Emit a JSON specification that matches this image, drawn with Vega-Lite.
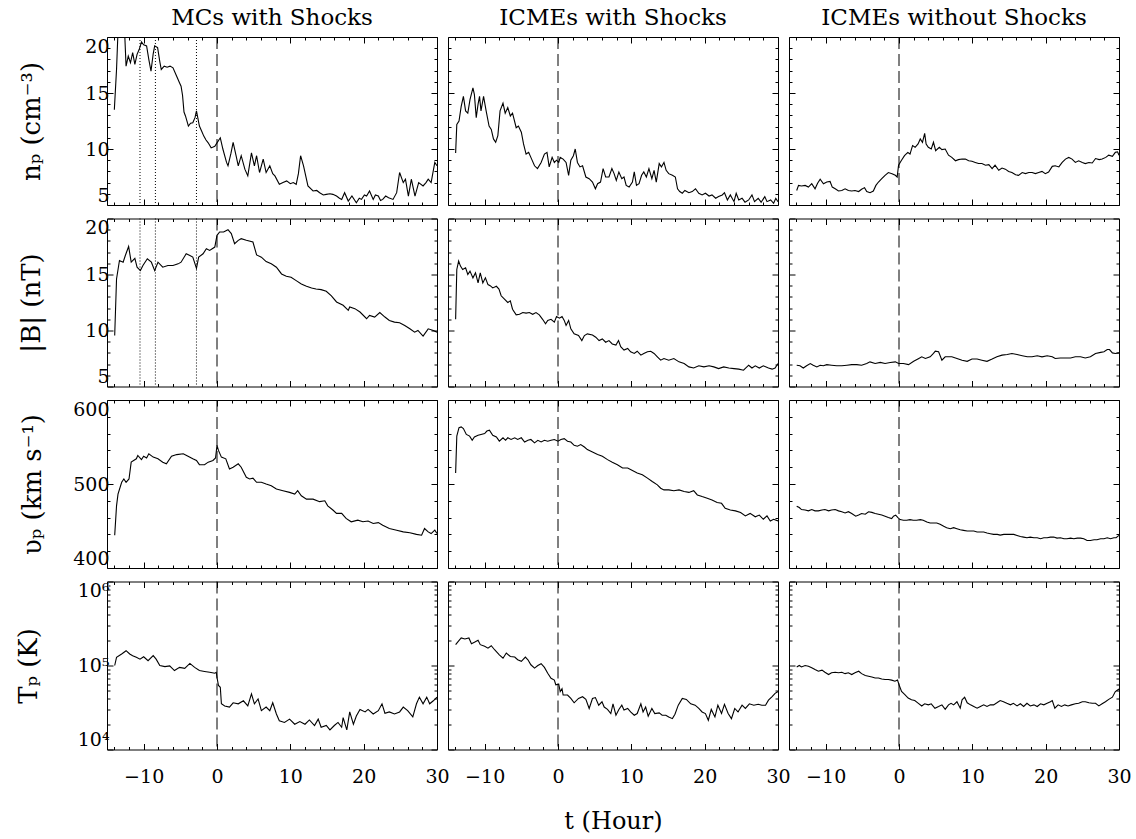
{
  "$schema": "https://vega.github.io/schema/vega-lite/v6.json",
  "background": "white",
  "padding": {"left": 14, "top": 6, "right": 5, "bottom": 5},
  "config": {
    "view": {"stroke": "black", "strokeWidth": 1},
    "axis": {"labelFont": "DejaVu Serif", "labelFontSize": 19, "labelColor": "black", "tickColor": "black", "tickWidth": 1,
      "titleFont": "DejaVu Serif", "titleFontSize": 26, "titleFontWeight": "normal", "titleColor": "black",
      "domain": false, "grid": false, "labelFlush": false, "labelOverlap": false, "labelBound": false},
    "title": {"font": "DejaVu Serif", "fontSize": 23, "fontWeight": "normal", "color": "black", "offset": 7},
    "line": {"color": "black", "strokeWidth": 1.1}
  },
  "datasets": {
    "a1": [{"t":-14.0,"v":13.5},{"t":-13.7,"v":17.1},{"t":-13.5,"v":20.5},{"t":-13.2,"v":22},{"t":-12.8,"v":21.5},{"t":-12.6,"v":20.5},{"t":-12.4,"v":17.4},{"t":-12.1,"v":18.3},{"t":-11.8,"v":17.7},{"t":-11.5,"v":18.6},{"t":-11.2,"v":17.55},{"t":-10.9,"v":18.45},{"t":-10.6,"v":18.9},{"t":-10.3,"v":19.55},{"t":-10.0,"v":19.3},{"t":-9.6,"v":19.2},{"t":-9.3,"v":18.0},{"t":-9.0,"v":16.95},{"t":-8.7,"v":18.5},{"t":-8.5,"v":19.2},{"t":-8.1,"v":19.05},{"t":-7.8,"v":17.8},{"t":-7.6,"v":17.1},{"t":-7.2,"v":17.4},{"t":-6.8,"v":17.3},{"t":-6.4,"v":17.4},{"t":-6.0,"v":17.25},{"t":-5.5,"v":16.5},{"t":-5.1,"v":15.9},{"t":-4.9,"v":15.6},{"t":-4.7,"v":14.8},{"t":-4.5,"v":13.3},{"t":-4.3,"v":12.95},{"t":-3.9,"v":12.05},{"t":-3.6,"v":12.3},{"t":-3.3,"v":12.35},{"t":-3.0,"v":12.8},{"t":-2.8,"v":13.4},{"t":-2.4,"v":12.05},{"t":-2.1,"v":11.6},{"t":-1.8,"v":11.15},{"t":-1.5,"v":10.8},{"t":-1.2,"v":10.55},{"t":-0.8,"v":10.1},{"t":-0.3,"v":10.25},{"t":0.0,"v":10.55},{"t":0.45,"v":11.0},{"t":0.8,"v":10.0},{"t":1.3,"v":8.8},{"t":1.5,"v":8.5},{"t":1.9,"v":9.6},{"t":2.2,"v":10.6},{"t":2.6,"v":9.4},{"t":2.9,"v":8.5},{"t":3.3,"v":9.4},{"t":3.8,"v":8.2},{"t":4.2,"v":7.6},{"t":4.7,"v":9.65},{"t":5.1,"v":8.5},{"t":5.4,"v":9.4},{"t":5.8,"v":7.9},{"t":6.3,"v":9.1},{"t":6.7,"v":7.9},{"t":7.2,"v":8.5},{"t":7.6,"v":7.8},{"t":7.9,"v":7.6},{"t":8.5,"v":6.85},{"t":9.0,"v":7.0},{"t":9.5,"v":7.15},{"t":10.0,"v":6.9},{"t":10.4,"v":7.0},{"t":10.8,"v":6.85},{"t":11.1,"v":7.8},{"t":11.4,"v":9.4},{"t":11.8,"v":8.5},{"t":12.4,"v":6.7},{"t":13.1,"v":6.25},{"t":13.6,"v":6.3},{"t":14.0,"v":6.1},{"t":14.5,"v":5.9},{"t":14.9,"v":5.95},{"t":15.4,"v":6.0},{"t":15.8,"v":5.95},{"t":16.3,"v":5.8},{"t":16.7,"v":5.6},{"t":17.0,"v":5.5},{"t":17.4,"v":6.1},{"t":17.9,"v":5.35},{"t":18.4,"v":5.8},{"t":19.0,"v":5.2},{"t":19.4,"v":5.6},{"t":19.7,"v":5.5},{"t":20.1,"v":5.9},{"t":20.4,"v":5.8},{"t":20.8,"v":6.25},{"t":21.3,"v":5.5},{"t":21.6,"v":5.9},{"t":22.0,"v":5.8},{"t":22.3,"v":5.4},{"t":22.6,"v":5.5},{"t":23.0,"v":5.8},{"t":23.4,"v":5.65},{"t":24.0,"v":5.5},{"t":24.5,"v":6.1},{"t":24.9,"v":7.9},{"t":25.4,"v":7.0},{"t":25.7,"v":7.3},{"t":26.1,"v":5.8},{"t":26.5,"v":7.3},{"t":27.0,"v":5.8},{"t":27.5,"v":7.0},{"t":28.1,"v":6.7},{"t":28.5,"v":7.0},{"t":28.8,"v":7.3},{"t":29.2,"v":7.0},{"t":29.7,"v":8.8},{"t":30.0,"v":8.5}],
    "a2": [{"t":-13.95,"v":9.55},{"t":-13.7,"v":14.6},{"t":-13.3,"v":16.25},{"t":-12.8,"v":16.1},{"t":-12.5,"v":16.7},{"t":-12.05,"v":17.5},{"t":-11.7,"v":16.1},{"t":-11.2,"v":16.45},{"t":-10.9,"v":15.65},{"t":-10.45,"v":15.35},{"t":-10.1,"v":15.8},{"t":-9.5,"v":16.4},{"t":-8.95,"v":16.1},{"t":-8.5,"v":15.35},{"t":-8.05,"v":16.1},{"t":-7.4,"v":15.65},{"t":-6.7,"v":15.8},{"t":-6.0,"v":15.8},{"t":-5.3,"v":15.95},{"t":-4.9,"v":16.1},{"t":-4.2,"v":16.85},{"t":-3.7,"v":16.7},{"t":-3.3,"v":16.55},{"t":-2.8,"v":15.55},{"t":-2.5,"v":16.55},{"t":-1.9,"v":16.85},{"t":-1.45,"v":17.3},{"t":-1.0,"v":17.15},{"t":-0.3,"v":17.45},{"t":0.0,"v":18.5},{"t":0.36,"v":18.8},{"t":0.9,"v":18.8},{"t":1.5,"v":19.0},{"t":1.95,"v":18.65},{"t":2.4,"v":17.75},{"t":2.9,"v":18.05},{"t":3.3,"v":18.2},{"t":4.0,"v":18.05},{"t":4.9,"v":17.9},{"t":5.4,"v":16.75},{"t":6.05,"v":16.55},{"t":6.7,"v":16.15},{"t":7.4,"v":15.95},{"t":8.1,"v":15.65},{"t":8.8,"v":15.05},{"t":9.45,"v":14.85},{"t":10.1,"v":14.75},{"t":10.8,"v":14.45},{"t":11.5,"v":14.15},{"t":12.2,"v":13.95},{"t":12.9,"v":13.8},{"t":13.5,"v":13.7},{"t":14.2,"v":13.65},{"t":14.9,"v":13.5},{"t":15.6,"v":13.1},{"t":16.3,"v":12.55},{"t":17.2,"v":12.25},{"t":17.9,"v":11.8},{"t":18.1,"v":12.1},{"t":18.8,"v":11.95},{"t":19.5,"v":11.65},{"t":20.4,"v":11.05},{"t":20.8,"v":11.35},{"t":21.5,"v":11.2},{"t":22.2,"v":11.6},{"t":22.9,"v":11.2},{"t":23.5,"v":10.9},{"t":24.2,"v":10.75},{"t":24.9,"v":10.7},{"t":25.6,"v":10.45},{"t":26.3,"v":10.15},{"t":26.95,"v":9.85},{"t":27.4,"v":10.0},{"t":28.1,"v":9.5},{"t":28.8,"v":10.15},{"t":29.5,"v":10.0},{"t":30.0,"v":9.85}],
    "a3": [{"t":-13.95,"v":439},{"t":-13.7,"v":474},{"t":-13.5,"v":488},{"t":-13.0,"v":502},{"t":-12.7,"v":506},{"t":-12.4,"v":502},{"t":-12.0,"v":506},{"t":-11.7,"v":526},{"t":-11.0,"v":530},{"t":-10.8,"v":534},{"t":-10.3,"v":529},{"t":-10.0,"v":533},{"t":-9.6,"v":531},{"t":-9.3,"v":536},{"t":-8.7,"v":532},{"t":-8.05,"v":530},{"t":-7.4,"v":526},{"t":-6.9,"v":524},{"t":-6.2,"v":533},{"t":-5.5,"v":535},{"t":-4.6,"v":536},{"t":-3.95,"v":533},{"t":-3.3,"v":530},{"t":-2.8,"v":528},{"t":-2.4,"v":523},{"t":-1.7,"v":523},{"t":-1.2,"v":526},{"t":-0.55,"v":528},{"t":-0.2,"v":531},{"t":0.0,"v":546},{"t":0.2,"v":540},{"t":0.6,"v":532},{"t":1.2,"v":530},{"t":1.7,"v":518},{"t":2.2,"v":520},{"t":2.9,"v":524},{"t":3.3,"v":520},{"t":4.0,"v":508},{"t":4.45,"v":506},{"t":4.9,"v":507},{"t":5.4,"v":502},{"t":6.05,"v":502},{"t":6.7,"v":500},{"t":7.4,"v":498},{"t":8.1,"v":494},{"t":9.0,"v":492},{"t":9.9,"v":490},{"t":10.6,"v":488},{"t":11.0,"v":492},{"t":11.5,"v":486},{"t":12.2,"v":482},{"t":13.1,"v":482},{"t":14.0,"v":479},{"t":14.7,"v":480},{"t":15.1,"v":474},{"t":15.8,"v":469},{"t":16.3,"v":465},{"t":17.0,"v":465},{"t":17.6,"v":459},{"t":18.3,"v":455},{"t":19.2,"v":457},{"t":19.9,"v":455},{"t":20.6,"v":456},{"t":21.3,"v":453},{"t":22.0,"v":454},{"t":22.6,"v":451},{"t":23.5,"v":447},{"t":24.5,"v":445},{"t":25.4,"v":443},{"t":26.3,"v":442},{"t":27.2,"v":440},{"t":27.9,"v":439},{"t":28.3,"v":447},{"t":28.8,"v":443},{"t":29.2,"v":441},{"t":29.7,"v":445},{"t":30.0,"v":441}],
    "a4": [{"t":-13.95,"v":100000},{"t":-13.7,"v":125000},{"t":-13.0,"v":137000},{"t":-12.4,"v":150000},{"t":-11.9,"v":137000},{"t":-11.5,"v":131000},{"t":-11.0,"v":125000},{"t":-10.5,"v":119000},{"t":-10.0,"v":127000},{"t":-9.4,"v":114000},{"t":-8.7,"v":131000},{"t":-8.3,"v":119000},{"t":-7.8,"v":100000},{"t":-7.1,"v":97000},{"t":-6.45,"v":99000},{"t":-5.8,"v":87000},{"t":-5.1,"v":95000},{"t":-4.4,"v":92500},{"t":-3.7,"v":106000},{"t":-3.05,"v":95000},{"t":-2.4,"v":87000},{"t":-1.7,"v":85000},{"t":-1.0,"v":83000},{"t":-0.3,"v":81000},{"t":-0.1,"v":83000},{"t":0.0,"v":72000},{"t":0.2,"v":58000},{"t":0.45,"v":55000},{"t":0.6,"v":35000},{"t":1.05,"v":33000},{"t":1.7,"v":32000},{"t":2.2,"v":36000},{"t":2.9,"v":35000},{"t":3.6,"v":38000},{"t":4.2,"v":33000},{"t":4.7,"v":46000},{"t":5.1,"v":35000},{"t":5.6,"v":40000},{"t":6.05,"v":29000},{"t":6.7,"v":32000},{"t":7.2,"v":29000},{"t":7.6,"v":36000},{"t":8.1,"v":26500},{"t":8.5,"v":22000},{"t":9.2,"v":21000},{"t":9.9,"v":23000},{"t":10.6,"v":20000},{"t":11.3,"v":21500},{"t":12.0,"v":20000},{"t":12.6,"v":22500},{"t":13.3,"v":19300},{"t":13.8,"v":23000},{"t":14.2,"v":18400},{"t":14.9,"v":19300},{"t":15.4,"v":17100},{"t":16.0,"v":19300},{"t":16.5,"v":21000},{"t":17.0,"v":18400},{"t":17.2,"v":24000},{"t":17.7,"v":17100},{"t":18.1,"v":28000},{"t":18.6,"v":20000},{"t":19.0,"v":25000},{"t":19.5,"v":30000},{"t":20.2,"v":28000},{"t":20.6,"v":30000},{"t":21.3,"v":26500},{"t":22.0,"v":29000},{"t":22.5,"v":35000},{"t":22.9,"v":27000},{"t":23.5,"v":28000},{"t":24.2,"v":26500},{"t":24.9,"v":28000},{"t":25.4,"v":32000},{"t":26.0,"v":29000},{"t":26.7,"v":24500},{"t":27.2,"v":35000},{"t":27.6,"v":42000},{"t":28.1,"v":35000},{"t":28.6,"v":42000},{"t":29.0,"v":35000},{"t":29.5,"v":38000},{"t":30.0,"v":42000}],
    "b1": [{"t":-13.96,"v":9.65},{"t":-13.8,"v":12.2},{"t":-13.5,"v":12.5},{"t":-13.2,"v":13.8},{"t":-12.9,"v":14.7},{"t":-12.6,"v":13.4},{"t":-12.3,"v":13.2},{"t":-12.0,"v":14.4},{"t":-11.6,"v":15.45},{"t":-11.4,"v":14.85},{"t":-11.15,"v":12.8},{"t":-10.9,"v":14.0},{"t":-10.7,"v":14.7},{"t":-10.5,"v":13.4},{"t":-10.15,"v":14.7},{"t":-9.8,"v":13.4},{"t":-9.4,"v":12.05},{"t":-9.1,"v":11.75},{"t":-8.8,"v":10.9},{"t":-8.5,"v":10.6},{"t":-8.2,"v":11.2},{"t":-7.9,"v":13.4},{"t":-7.5,"v":14.1},{"t":-7.2,"v":13.2},{"t":-6.85,"v":13.7},{"t":-6.5,"v":12.95},{"t":-6.2,"v":13.2},{"t":-5.7,"v":11.9},{"t":-5.4,"v":12.05},{"t":-5.0,"v":11.5},{"t":-4.7,"v":10.45},{"t":-4.35,"v":9.55},{"t":-4.0,"v":9.7},{"t":-3.7,"v":9.25},{"t":-3.2,"v":8.5},{"t":-2.8,"v":8.25},{"t":-2.3,"v":8.8},{"t":-1.85,"v":9.55},{"t":-1.5,"v":9.7},{"t":-1.2,"v":8.4},{"t":-0.8,"v":9.25},{"t":-0.5,"v":8.8},{"t":-0.2,"v":9.0},{"t":0.1,"v":8.8},{"t":0.3,"v":9.25},{"t":0.7,"v":9.1},{"t":1.1,"v":8.8},{"t":1.45,"v":7.65},{"t":1.75,"v":9.0},{"t":2.1,"v":9.4},{"t":2.35,"v":10.0},{"t":2.65,"v":8.8},{"t":3.0,"v":8.4},{"t":3.35,"v":8.5},{"t":3.8,"v":7.5},{"t":4.25,"v":7.35},{"t":4.7,"v":7.05},{"t":5.1,"v":6.45},{"t":5.4,"v":6.9},{"t":5.8,"v":7.05},{"t":6.15,"v":8.25},{"t":6.5,"v":7.5},{"t":6.95,"v":7.5},{"t":7.35,"v":8.25},{"t":7.65,"v":7.8},{"t":7.95,"v":7.2},{"t":8.3,"v":7.95},{"t":8.7,"v":7.35},{"t":9.0,"v":7.5},{"t":9.3,"v":6.75},{"t":9.7,"v":6.6},{"t":10.15,"v":7.05},{"t":10.4,"v":7.95},{"t":10.7,"v":6.75},{"t":11.05,"v":6.9},{"t":11.4,"v":7.65},{"t":11.7,"v":7.95},{"t":12.05,"v":7.5},{"t":12.4,"v":8.25},{"t":12.8,"v":7.35},{"t":13.1,"v":8.1},{"t":13.4,"v":7.05},{"t":13.8,"v":8.7},{"t":14.1,"v":8.4},{"t":14.45,"v":8.8},{"t":14.75,"v":8.1},{"t":15.1,"v":7.8},{"t":15.6,"v":7.65},{"t":16.0,"v":7.5},{"t":16.3,"v":6.45},{"t":16.6,"v":6.2},{"t":16.95,"v":6.05},{"t":17.3,"v":6.3},{"t":17.85,"v":6.1},{"t":18.3,"v":6.2},{"t":18.75,"v":6.45},{"t":19.2,"v":6.05},{"t":19.65,"v":5.9},{"t":20.1,"v":6.05},{"t":20.6,"v":5.8},{"t":21.0,"v":5.9},{"t":21.5,"v":5.6},{"t":21.9,"v":5.75},{"t":22.4,"v":5.9},{"t":22.7,"v":6.1},{"t":23.1,"v":5.45},{"t":23.5,"v":5.9},{"t":24.0,"v":5.3},{"t":24.3,"v":6.05},{"t":24.65,"v":5.45},{"t":25.1,"v":5.6},{"t":25.5,"v":5.25},{"t":26.0,"v":5.45},{"t":26.45,"v":5.9},{"t":26.8,"v":5.3},{"t":27.3,"v":5.6},{"t":27.7,"v":5.25},{"t":28.2,"v":5.75},{"t":28.5,"v":5.3},{"t":29.0,"v":5.45},{"t":29.4,"v":5.15},{"t":29.7,"v":5.6},{"t":30.0,"v":5.3}],
    "b2": [{"t":-13.96,"v":11.0},{"t":-13.8,"v":15.45},{"t":-13.55,"v":16.2},{"t":-13.3,"v":15.75},{"t":-13.0,"v":15.45},{"t":-12.6,"v":15.6},{"t":-12.3,"v":15.0},{"t":-12.0,"v":15.3},{"t":-11.6,"v":14.7},{"t":-11.25,"v":15.15},{"t":-10.9,"v":14.25},{"t":-10.6,"v":15.15},{"t":-10.25,"v":14.25},{"t":-9.9,"v":14.7},{"t":-9.55,"v":14.1},{"t":-9.25,"v":14.0},{"t":-8.9,"v":13.8},{"t":-8.4,"v":13.95},{"t":-8.05,"v":13.7},{"t":-7.75,"v":13.1},{"t":-7.3,"v":12.8},{"t":-6.85,"v":12.5},{"t":-6.5,"v":12.65},{"t":-6.2,"v":11.9},{"t":-5.7,"v":11.4},{"t":-5.25,"v":11.45},{"t":-4.8,"v":11.6},{"t":-4.35,"v":11.55},{"t":-3.9,"v":11.6},{"t":-3.45,"v":11.45},{"t":-3.0,"v":11.6},{"t":-2.55,"v":11.4},{"t":-2.1,"v":11.0},{"t":-1.7,"v":10.6},{"t":-1.4,"v":10.9},{"t":-0.95,"v":11.0},{"t":-0.5,"v":10.75},{"t":-0.2,"v":11.25},{"t":0.2,"v":11.1},{"t":0.55,"v":11.25},{"t":0.85,"v":10.9},{"t":1.1,"v":10.45},{"t":1.45,"v":10.9},{"t":1.75,"v":10.15},{"t":2.2,"v":9.7},{"t":2.8,"v":9.55},{"t":3.25,"v":9.1},{"t":3.6,"v":9.55},{"t":4.0,"v":9.7},{"t":4.7,"v":9.6},{"t":5.15,"v":9.4},{"t":5.6,"v":9.1},{"t":6.05,"v":9.25},{"t":6.5,"v":8.95},{"t":6.95,"v":9.1},{"t":7.4,"v":8.8},{"t":7.9,"v":8.7},{"t":8.25,"v":9.1},{"t":8.55,"v":8.55},{"t":9.0,"v":8.25},{"t":9.5,"v":8.4},{"t":9.9,"v":8.1},{"t":10.4,"v":7.95},{"t":10.8,"v":8.15},{"t":11.3,"v":7.8},{"t":11.7,"v":7.95},{"t":12.2,"v":8.1},{"t":12.65,"v":8.15},{"t":13.1,"v":7.95},{"t":13.55,"v":7.65},{"t":14.0,"v":7.35},{"t":14.45,"v":7.5},{"t":15.1,"v":7.35},{"t":15.8,"v":7.5},{"t":16.5,"v":7.2},{"t":17.2,"v":7.05},{"t":17.85,"v":6.75},{"t":18.5,"v":6.65},{"t":19.2,"v":6.85},{"t":19.9,"v":6.75},{"t":20.6,"v":6.85},{"t":21.25,"v":6.75},{"t":21.9,"v":6.6},{"t":22.6,"v":6.75},{"t":23.3,"v":6.65},{"t":24.0,"v":6.6},{"t":24.65,"v":6.55},{"t":25.3,"v":6.45},{"t":26.0,"v":6.9},{"t":26.45,"v":6.65},{"t":26.9,"v":6.85},{"t":27.45,"v":6.65},{"t":28.0,"v":6.85},{"t":28.7,"v":6.65},{"t":29.2,"v":6.55},{"t":29.6,"v":6.65},{"t":30.0,"v":7.05}],
    "b3": [{"t":-13.96,"v":513},{"t":-13.8,"v":557},{"t":-13.5,"v":567},{"t":-13.2,"v":568},{"t":-12.9,"v":566},{"t":-12.5,"v":559},{"t":-12.05,"v":557},{"t":-11.7,"v":552},{"t":-11.4,"v":556},{"t":-10.9,"v":558},{"t":-10.5,"v":559},{"t":-10.0,"v":560},{"t":-9.7,"v":563},{"t":-9.35,"v":564},{"t":-8.9,"v":558},{"t":-8.4,"v":556},{"t":-8.0,"v":551},{"t":-7.5,"v":555},{"t":-7.15,"v":552},{"t":-6.85,"v":555},{"t":-6.4,"v":553},{"t":-5.9,"v":555},{"t":-5.5,"v":553},{"t":-5.0,"v":555},{"t":-4.55,"v":550},{"t":-4.1,"v":552},{"t":-3.7,"v":553},{"t":-3.2,"v":549},{"t":-2.75,"v":552},{"t":-2.3,"v":550},{"t":-1.85,"v":552},{"t":-1.4,"v":551},{"t":-0.95,"v":552},{"t":-0.5,"v":553},{"t":0.0,"v":551},{"t":0.4,"v":553},{"t":0.85,"v":554},{"t":1.3,"v":551},{"t":1.75,"v":550},{"t":2.2,"v":546},{"t":2.65,"v":545},{"t":3.1,"v":547},{"t":3.6,"v":544},{"t":4.0,"v":541},{"t":4.7,"v":538},{"t":5.4,"v":535},{"t":6.05,"v":533},{"t":6.75,"v":529},{"t":7.4,"v":526},{"t":8.1,"v":523},{"t":8.8,"v":519},{"t":9.5,"v":519},{"t":10.15,"v":516},{"t":10.8,"v":513},{"t":11.5,"v":511},{"t":12.2,"v":507},{"t":12.85,"v":503},{"t":13.55,"v":499},{"t":14.0,"v":495},{"t":14.45,"v":493},{"t":15.1,"v":493},{"t":15.8,"v":492},{"t":16.5,"v":493},{"t":17.2,"v":491},{"t":17.85,"v":490},{"t":18.5,"v":492},{"t":19.0,"v":487},{"t":19.65,"v":485},{"t":20.35,"v":483},{"t":21.0,"v":481},{"t":21.7,"v":478},{"t":22.3,"v":477},{"t":22.8,"v":471},{"t":23.5,"v":469},{"t":24.2,"v":468},{"t":24.9,"v":466},{"t":25.55,"v":462},{"t":26.2,"v":465},{"t":26.9,"v":461},{"t":27.45,"v":463},{"t":28.0,"v":458},{"t":28.5,"v":462},{"t":28.95,"v":456},{"t":29.4,"v":458},{"t":30.0,"v":456}],
    "b4": [{"t":-13.96,"v":177000},{"t":-13.6,"v":194000},{"t":-13.2,"v":213000},{"t":-12.7,"v":207000},{"t":-12.15,"v":213000},{"t":-11.8,"v":182000},{"t":-11.4,"v":189000},{"t":-10.9,"v":200000},{"t":-10.6,"v":177000},{"t":-10.0,"v":169000},{"t":-9.55,"v":161000},{"t":-9.1,"v":172000},{"t":-8.65,"v":154000},{"t":-8.0,"v":134000},{"t":-7.5,"v":122000},{"t":-7.05,"v":141000},{"t":-6.5,"v":128000},{"t":-5.9,"v":126000},{"t":-5.5,"v":117000},{"t":-5.0,"v":112000},{"t":-4.45,"v":126000},{"t":-4.1,"v":117000},{"t":-3.7,"v":102000},{"t":-3.2,"v":93000},{"t":-2.75,"v":100000},{"t":-2.3,"v":105000},{"t":-1.85,"v":95000},{"t":-1.4,"v":81000},{"t":-0.95,"v":70500},{"t":-0.5,"v":67000},{"t":-0.3,"v":59000},{"t":0.1,"v":60000},{"t":0.3,"v":49000},{"t":0.55,"v":53000},{"t":0.7,"v":44500},{"t":1.3,"v":44500},{"t":1.75,"v":40500},{"t":2.2,"v":36000},{"t":2.8,"v":40500},{"t":3.35,"v":42500},{"t":3.8,"v":39500},{"t":4.25,"v":30800},{"t":4.7,"v":40500},{"t":5.1,"v":41500},{"t":5.55,"v":33700},{"t":6.0,"v":37000},{"t":6.3,"v":32000},{"t":6.75,"v":30000},{"t":7.2,"v":26800},{"t":7.5,"v":35000},{"t":7.9,"v":25600},{"t":8.3,"v":30000},{"t":8.7,"v":33700},{"t":9.0,"v":29500},{"t":9.5,"v":30800},{"t":9.9,"v":28000},{"t":10.4,"v":25600},{"t":10.8,"v":26800},{"t":11.3,"v":35000},{"t":11.6,"v":28000},{"t":11.95,"v":32000},{"t":12.3,"v":24900},{"t":12.8,"v":30800},{"t":13.2,"v":26800},{"t":13.8,"v":27300},{"t":14.2,"v":25600},{"t":14.7,"v":25600},{"t":15.1,"v":24400},{"t":15.6,"v":23300},{"t":15.95,"v":26300},{"t":16.4,"v":33700},{"t":16.95,"v":40500},{"t":17.5,"v":39500},{"t":18.1,"v":35000},{"t":18.7,"v":33700},{"t":19.2,"v":30800},{"t":19.65,"v":28000},{"t":20.1,"v":26800},{"t":20.5,"v":22300},{"t":20.9,"v":30000},{"t":21.4,"v":24400},{"t":21.8,"v":33700},{"t":22.3,"v":26800},{"t":22.7,"v":34500},{"t":23.2,"v":26800},{"t":23.65,"v":23300},{"t":24.1,"v":30800},{"t":24.55,"v":28000},{"t":25.1,"v":33700},{"t":25.55,"v":30800},{"t":26.1,"v":35000},{"t":26.7,"v":33700},{"t":27.3,"v":34500},{"t":27.8,"v":33700},{"t":28.3,"v":33700},{"t":28.7,"v":38700},{"t":29.2,"v":42500},{"t":29.6,"v":46600},{"t":30.0,"v":49000}],
    "c1": [{"t":-13.95,"v":6.3},{"t":-13.7,"v":6.75},{"t":-13.3,"v":6.7},{"t":-12.8,"v":6.75},{"t":-12.35,"v":6.6},{"t":-11.9,"v":6.9},{"t":-11.45,"v":6.45},{"t":-11.1,"v":6.95},{"t":-10.75,"v":7.3},{"t":-10.3,"v":6.9},{"t":-9.85,"v":7.05},{"t":-9.4,"v":7.1},{"t":-9.1,"v":6.6},{"t":-8.7,"v":6.45},{"t":-8.25,"v":6.25},{"t":-7.8,"v":6.3},{"t":-7.35,"v":6.45},{"t":-6.9,"v":6.3},{"t":-6.45,"v":6.25},{"t":-6.0,"v":6.3},{"t":-5.5,"v":6.2},{"t":-5.1,"v":6.4},{"t":-4.7,"v":6.55},{"t":-4.4,"v":6.2},{"t":-3.95,"v":6.1},{"t":-3.5,"v":6.25},{"t":-3.15,"v":6.75},{"t":-2.8,"v":7.05},{"t":-2.35,"v":7.35},{"t":-1.9,"v":7.65},{"t":-1.45,"v":7.9},{"t":-0.95,"v":7.8},{"t":-0.5,"v":7.65},{"t":-0.25,"v":7.5},{"t":-0.06,"v":8.55},{"t":0.3,"v":8.95},{"t":0.75,"v":9.4},{"t":1.2,"v":9.7},{"t":1.5,"v":9.55},{"t":1.85,"v":10.3},{"t":2.2,"v":10.15},{"t":2.6,"v":10.45},{"t":2.9,"v":10.9},{"t":3.2,"v":10.6},{"t":3.5,"v":11.4},{"t":3.7,"v":10.45},{"t":4.0,"v":10.15},{"t":4.4,"v":10.0},{"t":4.7,"v":10.6},{"t":5.0,"v":9.85},{"t":5.5,"v":10.15},{"t":5.85,"v":9.95},{"t":6.3,"v":10.0},{"t":6.75,"v":9.45},{"t":7.2,"v":9.25},{"t":7.7,"v":8.95},{"t":8.1,"v":9.05},{"t":8.6,"v":9.1},{"t":9.05,"v":9.1},{"t":9.5,"v":8.95},{"t":9.95,"v":8.9},{"t":10.4,"v":8.8},{"t":10.85,"v":8.7},{"t":11.3,"v":8.7},{"t":11.8,"v":8.55},{"t":12.25,"v":8.6},{"t":12.7,"v":8.25},{"t":13.1,"v":8.55},{"t":13.6,"v":8.1},{"t":14.05,"v":8.3},{"t":14.5,"v":8.2},{"t":14.95,"v":8.0},{"t":15.4,"v":7.9},{"t":15.9,"v":7.7},{"t":16.3,"v":7.65},{"t":16.8,"v":7.9},{"t":17.25,"v":7.8},{"t":17.7,"v":7.9},{"t":18.15,"v":7.9},{"t":18.6,"v":7.8},{"t":19.05,"v":7.9},{"t":19.5,"v":8.0},{"t":19.95,"v":7.8},{"t":20.4,"v":7.95},{"t":20.9,"v":8.45},{"t":21.3,"v":8.5},{"t":21.8,"v":8.4},{"t":22.25,"v":8.8},{"t":22.7,"v":9.1},{"t":23.15,"v":9.25},{"t":23.6,"v":9.1},{"t":24.05,"v":8.8},{"t":24.5,"v":8.95},{"t":25.0,"v":8.8},{"t":25.4,"v":8.7},{"t":25.9,"v":8.8},{"t":26.35,"v":8.75},{"t":26.8,"v":9.15},{"t":27.3,"v":9.05},{"t":27.7,"v":9.1},{"t":28.2,"v":9.25},{"t":28.6,"v":9.45},{"t":29.1,"v":9.35},{"t":29.5,"v":9.7},{"t":29.8,"v":9.75},{"t":30.0,"v":9.45}],
    "c2": [{"t":-13.95,"v":6.9},{"t":-13.5,"v":6.85},{"t":-13.05,"v":6.65},{"t":-12.6,"v":6.85},{"t":-12.1,"v":7.05},{"t":-11.7,"v":6.9},{"t":-11.2,"v":6.75},{"t":-10.75,"v":6.9},{"t":-10.3,"v":6.85},{"t":-9.85,"v":6.95},{"t":-9.2,"v":6.9},{"t":-8.5,"v":6.85},{"t":-7.8,"v":6.85},{"t":-7.1,"v":6.9},{"t":-6.45,"v":6.95},{"t":-5.75,"v":6.95},{"t":-5.1,"v":6.9},{"t":-4.4,"v":7.05},{"t":-3.95,"v":7.2},{"t":-3.25,"v":7.05},{"t":-2.55,"v":7.15},{"t":-1.9,"v":7.05},{"t":-1.2,"v":7.15},{"t":-0.5,"v":7.2},{"t":-0.05,"v":7.05},{"t":0.6,"v":7.05},{"t":1.3,"v":6.95},{"t":2.0,"v":7.25},{"t":2.7,"v":7.5},{"t":3.1,"v":7.65},{"t":3.6,"v":7.5},{"t":4.25,"v":7.65},{"t":4.7,"v":7.95},{"t":4.95,"v":8.15},{"t":5.4,"v":8.1},{"t":5.85,"v":7.35},{"t":6.3,"v":7.65},{"t":6.75,"v":7.65},{"t":7.2,"v":7.65},{"t":7.9,"v":7.5},{"t":8.6,"v":7.35},{"t":9.3,"v":7.25},{"t":9.95,"v":7.45},{"t":10.65,"v":7.45},{"t":11.3,"v":7.35},{"t":12.0,"v":7.25},{"t":12.7,"v":7.45},{"t":13.35,"v":7.65},{"t":14.05,"v":7.8},{"t":14.75,"v":7.85},{"t":15.4,"v":7.95},{"t":16.1,"v":7.85},{"t":16.8,"v":7.75},{"t":17.5,"v":7.65},{"t":18.15,"v":7.65},{"t":18.85,"v":7.75},{"t":19.5,"v":7.65},{"t":20.2,"v":7.75},{"t":20.9,"v":7.65},{"t":21.3,"v":7.5},{"t":22.0,"v":7.55},{"t":22.7,"v":7.55},{"t":23.4,"v":7.55},{"t":24.05,"v":7.65},{"t":24.75,"v":7.65},{"t":25.4,"v":7.55},{"t":26.1,"v":7.65},{"t":26.8,"v":7.95},{"t":27.5,"v":8.05},{"t":27.95,"v":8.1},{"t":28.4,"v":8.3},{"t":28.7,"v":8.3},{"t":29.1,"v":8.0},{"t":29.5,"v":7.95},{"t":30.0,"v":8.0}],
    "c3": [{"t":-13.95,"v":473.6},{"t":-13.6,"v":472},{"t":-13.3,"v":469.6},{"t":-12.8,"v":469},{"t":-12.35,"v":468},{"t":-11.9,"v":469.6},{"t":-11.45,"v":468},{"t":-11.0,"v":468},{"t":-10.5,"v":469},{"t":-10.1,"v":469.6},{"t":-9.6,"v":468},{"t":-9.2,"v":469},{"t":-8.7,"v":469.6},{"t":-8.25,"v":468},{"t":-7.8,"v":467},{"t":-7.35,"v":465.6},{"t":-6.9,"v":467},{"t":-6.45,"v":464.8},{"t":-5.9,"v":461.6},{"t":-5.5,"v":463},{"t":-5.1,"v":464.8},{"t":-4.6,"v":464},{"t":-4.15,"v":467},{"t":-3.7,"v":466.2},{"t":-3.25,"v":464.8},{"t":-2.8,"v":464},{"t":-2.35,"v":463},{"t":-1.9,"v":461.6},{"t":-1.45,"v":460},{"t":-1.0,"v":458.8},{"t":-0.75,"v":461.6},{"t":-0.45,"v":463},{"t":-0.15,"v":460},{"t":0.15,"v":457.6},{"t":0.6,"v":456.8},{"t":1.05,"v":456.8},{"t":1.5,"v":457.6},{"t":1.95,"v":456.8},{"t":2.4,"v":456.8},{"t":2.9,"v":457.6},{"t":3.3,"v":456.8},{"t":3.8,"v":454.8},{"t":4.25,"v":453.6},{"t":4.7,"v":453.6},{"t":5.15,"v":453.6},{"t":5.6,"v":452},{"t":6.1,"v":449.6},{"t":6.5,"v":448},{"t":7.0,"v":446.8},{"t":7.45,"v":448},{"t":7.9,"v":446.8},{"t":8.35,"v":445.6},{"t":8.8,"v":444.8},{"t":9.3,"v":444},{"t":9.7,"v":444},{"t":10.2,"v":444},{"t":10.65,"v":442.8},{"t":11.1,"v":442.8},{"t":11.55,"v":442.8},{"t":12.0,"v":441.6},{"t":12.45,"v":440.8},{"t":12.9,"v":440},{"t":13.4,"v":440},{"t":13.8,"v":439.2},{"t":14.3,"v":440},{"t":14.75,"v":440},{"t":15.2,"v":440},{"t":15.65,"v":440},{"t":16.1,"v":438.8},{"t":16.55,"v":437.6},{"t":17.0,"v":436.8},{"t":17.45,"v":436},{"t":17.9,"v":436.8},{"t":18.4,"v":436},{"t":18.85,"v":436},{"t":19.3,"v":434.8},{"t":19.75,"v":436},{"t":20.2,"v":436},{"t":20.65,"v":436.8},{"t":21.1,"v":436.8},{"t":21.55,"v":435.6},{"t":22.0,"v":436},{"t":22.5,"v":434.8},{"t":22.9,"v":434.8},{"t":23.4,"v":435.6},{"t":23.85,"v":434.8},{"t":24.3,"v":435.6},{"t":24.75,"v":435.6},{"t":25.2,"v":434.8},{"t":25.65,"v":432.8},{"t":26.1,"v":432.8},{"t":26.6,"v":433.6},{"t":27.0,"v":433.6},{"t":27.5,"v":434.8},{"t":27.95,"v":434.8},{"t":28.4,"v":436},{"t":28.85,"v":434.8},{"t":29.3,"v":436},{"t":29.6,"v":436},{"t":30.0,"v":438.8}],
    "c4": [{"t":-13.95,"v":96000},{"t":-13.6,"v":100000},{"t":-13.3,"v":96000},{"t":-12.8,"v":100000},{"t":-12.35,"v":98000},{"t":-11.9,"v":94000},{"t":-11.45,"v":89500},{"t":-11.0,"v":85500},{"t":-10.5,"v":88000},{"t":-10.1,"v":83000},{"t":-9.6,"v":78000},{"t":-9.2,"v":82000},{"t":-8.7,"v":83000},{"t":-8.25,"v":82000},{"t":-7.8,"v":83000},{"t":-7.35,"v":80000},{"t":-6.9,"v":82000},{"t":-6.45,"v":78000},{"t":-6.0,"v":82000},{"t":-5.5,"v":85500},{"t":-5.1,"v":80000},{"t":-4.6,"v":76000},{"t":-4.15,"v":74500},{"t":-3.7,"v":73000},{"t":-3.25,"v":71000},{"t":-2.8,"v":71000},{"t":-2.35,"v":69000},{"t":-1.9,"v":68000},{"t":-1.45,"v":68000},{"t":-1.0,"v":67000},{"t":-0.55,"v":65000},{"t":-0.2,"v":67000},{"t":0.0,"v":59000},{"t":0.35,"v":49000},{"t":0.8,"v":45000},{"t":1.25,"v":41000},{"t":1.7,"v":39000},{"t":2.15,"v":38300},{"t":2.6,"v":35700},{"t":3.1,"v":33000},{"t":3.5,"v":35000},{"t":4.0,"v":34000},{"t":4.4,"v":35000},{"t":4.9,"v":31000},{"t":5.4,"v":32500},{"t":5.85,"v":34000},{"t":6.3,"v":30000},{"t":6.75,"v":34000},{"t":7.1,"v":35500},{"t":7.45,"v":34000},{"t":7.9,"v":37000},{"t":8.35,"v":31000},{"t":8.6,"v":39000},{"t":8.95,"v":42000},{"t":9.3,"v":36000},{"t":9.75,"v":34000},{"t":10.2,"v":32500},{"t":10.65,"v":31000},{"t":11.1,"v":32500},{"t":11.55,"v":34000},{"t":12.0,"v":32500},{"t":12.45,"v":34000},{"t":12.9,"v":34000},{"t":13.35,"v":36000},{"t":13.8,"v":38300},{"t":14.25,"v":37000},{"t":14.7,"v":35500},{"t":15.2,"v":34000},{"t":15.6,"v":35500},{"t":16.1,"v":33000},{"t":16.55,"v":35000},{"t":17.0,"v":32500},{"t":17.45,"v":35500},{"t":17.9,"v":33000},{"t":18.4,"v":34000},{"t":18.85,"v":32500},{"t":19.3,"v":35000},{"t":19.75,"v":34000},{"t":20.2,"v":35500},{"t":20.65,"v":37000},{"t":20.9,"v":38300},{"t":21.25,"v":31000},{"t":21.7,"v":34000},{"t":22.15,"v":32500},{"t":22.6,"v":34000},{"t":23.05,"v":33000},{"t":23.5,"v":34000},{"t":24.05,"v":35000},{"t":24.5,"v":35500},{"t":25.0,"v":37000},{"t":25.4,"v":37000},{"t":25.9,"v":36000},{"t":26.35,"v":35500},{"t":26.8,"v":35500},{"t":27.25,"v":33000},{"t":27.7,"v":35000},{"t":28.15,"v":37000},{"t":28.6,"v":39500},{"t":29.1,"v":42000},{"t":29.5,"v":49000},{"t":30.0,"v":52500}]
  },
  "concat": [
    {"title": "MCs with Shocks", "width": 330, "height": 168, "data": {"name": "a1"},
     "layer": [
      {"mark": {"type": "line", "clip": true}, "encoding": {
        "x": {"field": "t", "type": "quantitative", "scale": {"domain": [-15, 30], "nice": false, "zero": false},
              "axis": {"orient": "bottom", "values": [-14,-12,-10,-8,-6,-4,-2,0,2,4,6,8,10,12,14,16,18,20,22,24,26,28,30], "tickSize": {"condition": {"test": "datum.value % 10 === 0", "value": -6}, "value": -3}, "labels": false, "title": null}},
        "y": {"field": "v", "type": "quantitative", "scale": {"domain": [5, 20], "nice": false, "zero": false},
              "axis": {"orient": "left", "values": [5,6,7,8,9,10,11,12,13,14,15,16,17,18,19,20], "tickSize": {"condition": {"test": "datum.value % 5 === 0", "value": -6}, "value": -3}, "labelExpr": "datum.value % 5 === 0 ? datum.label : ''", "labelFlush": true, "labelPadding": 4, "title": "nₚ (cm⁻³)", "titlePadding": 40}}}},
      {"mark": {"type": "line", "opacity": 0, "clip": true}, "encoding": {
        "x": {"field": "t", "type": "quantitative", "scale": {"domain": [-15, 30], "nice": false, "zero": false},
              "axis": {"orient": "top", "values": [-14,-12,-10,-8,-6,-4,-2,0,2,4,6,8,10,12,14,16,18,20,22,24,26,28,30], "tickSize": {"condition": {"test": "datum.value % 10 === 0", "value": -6}, "value": -3}, "labels": false, "title": null}},
        "y": {"field": "v", "type": "quantitative", "scale": {"domain": [5, 20], "nice": false, "zero": false},
              "axis": {"orient": "right", "values": [5,6,7,8,9,10,11,12,13,14,15,16,17,18,19,20], "tickSize": {"condition": {"test": "datum.value % 5 === 0", "value": -6}, "value": -3}, "labels": false, "title": null}}}},
      {"data": {"values": [{"t": 0}]}, "mark": {"type": "rule", "color": "black", "strokeDash": [12, 5], "strokeWidth": 1}, "encoding": {"x": {"field": "t", "type": "quantitative", "scale": {"domain": [-15, 30], "nice": false, "zero": false}, "axis": null}}},
      {"data": {"values": [{"t": -10.5}, {"t": -8.4}, {"t": -2.8}]}, "mark": {"type": "rule", "color": "black", "strokeDash": [1, 2], "strokeWidth": 1}, "encoding": {"x": {"field": "t", "type": "quantitative", "scale": {"domain": [-15, 30], "nice": false, "zero": false}, "axis": null}}}
     ],
     "resolve": {"axis": {"x": "independent", "y": "independent"}}},
    {"title": "ICMEs with Shocks", "width": 330, "height": 168, "data": {"name": "b1"},
     "layer": [
      {"mark": {"type": "line", "clip": true}, "encoding": {
        "x": {"field": "t", "type": "quantitative", "scale": {"domain": [-15, 30], "nice": false, "zero": false},
              "axis": {"orient": "bottom", "values": [-14,-12,-10,-8,-6,-4,-2,0,2,4,6,8,10,12,14,16,18,20,22,24,26,28,30], "tickSize": {"condition": {"test": "datum.value % 10 === 0", "value": -6}, "value": -3}, "labels": false, "title": null}},
        "y": {"field": "v", "type": "quantitative", "scale": {"domain": [5, 20], "nice": false, "zero": false},
              "axis": {"orient": "left", "values": [5,6,7,8,9,10,11,12,13,14,15,16,17,18,19,20], "tickSize": {"condition": {"test": "datum.value % 5 === 0", "value": -6}, "value": -3}, "labels": false, "title": null}}}},
      {"mark": {"type": "line", "opacity": 0, "clip": true}, "encoding": {
        "x": {"field": "t", "type": "quantitative", "scale": {"domain": [-15, 30], "nice": false, "zero": false},
              "axis": {"orient": "top", "values": [-14,-12,-10,-8,-6,-4,-2,0,2,4,6,8,10,12,14,16,18,20,22,24,26,28,30], "tickSize": {"condition": {"test": "datum.value % 10 === 0", "value": -6}, "value": -3}, "labels": false, "title": null}},
        "y": {"field": "v", "type": "quantitative", "scale": {"domain": [5, 20], "nice": false, "zero": false},
              "axis": {"orient": "right", "values": [5,6,7,8,9,10,11,12,13,14,15,16,17,18,19,20], "tickSize": {"condition": {"test": "datum.value % 5 === 0", "value": -6}, "value": -3}, "labels": false, "title": null}}}},
      {"data": {"values": [{"t": 0}]}, "mark": {"type": "rule", "color": "black", "strokeDash": [12, 5], "strokeWidth": 1}, "encoding": {"x": {"field": "t", "type": "quantitative", "scale": {"domain": [-15, 30], "nice": false, "zero": false}, "axis": null}}}
     ],
     "resolve": {"axis": {"x": "independent", "y": "independent"}}},
    {"title": "ICMEs without Shocks", "width": 330, "height": 168, "data": {"name": "c1"},
     "layer": [
      {"mark": {"type": "line", "clip": true}, "encoding": {
        "x": {"field": "t", "type": "quantitative", "scale": {"domain": [-15, 30], "nice": false, "zero": false},
              "axis": {"orient": "bottom", "values": [-14,-12,-10,-8,-6,-4,-2,0,2,4,6,8,10,12,14,16,18,20,22,24,26,28,30], "tickSize": {"condition": {"test": "datum.value % 10 === 0", "value": -6}, "value": -3}, "labels": false, "title": null}},
        "y": {"field": "v", "type": "quantitative", "scale": {"domain": [5, 20], "nice": false, "zero": false},
              "axis": {"orient": "left", "values": [5,6,7,8,9,10,11,12,13,14,15,16,17,18,19,20], "tickSize": {"condition": {"test": "datum.value % 5 === 0", "value": -6}, "value": -3}, "labels": false, "title": null}}}},
      {"mark": {"type": "line", "opacity": 0, "clip": true}, "encoding": {
        "x": {"field": "t", "type": "quantitative", "scale": {"domain": [-15, 30], "nice": false, "zero": false},
              "axis": {"orient": "top", "values": [-14,-12,-10,-8,-6,-4,-2,0,2,4,6,8,10,12,14,16,18,20,22,24,26,28,30], "tickSize": {"condition": {"test": "datum.value % 10 === 0", "value": -6}, "value": -3}, "labels": false, "title": null}},
        "y": {"field": "v", "type": "quantitative", "scale": {"domain": [5, 20], "nice": false, "zero": false},
              "axis": {"orient": "right", "values": [5,6,7,8,9,10,11,12,13,14,15,16,17,18,19,20], "tickSize": {"condition": {"test": "datum.value % 5 === 0", "value": -6}, "value": -3}, "labels": false, "title": null}}}},
      {"data": {"values": [{"t": 0}]}, "mark": {"type": "rule", "color": "black", "strokeDash": [12, 5], "strokeWidth": 1}, "encoding": {"x": {"field": "t", "type": "quantitative", "scale": {"domain": [-15, 30], "nice": false, "zero": false}, "axis": null}}}
     ],
     "resolve": {"axis": {"x": "independent", "y": "independent"}}},

    {"width": 330, "height": 168, "data": {"name": "a2"},
     "layer": [
      {"mark": {"type": "line", "clip": true}, "encoding": {
        "x": {"field": "t", "type": "quantitative", "scale": {"domain": [-15, 30], "nice": false, "zero": false},
              "axis": {"orient": "bottom", "values": [-14,-12,-10,-8,-6,-4,-2,0,2,4,6,8,10,12,14,16,18,20,22,24,26,28,30], "tickSize": {"condition": {"test": "datum.value % 10 === 0", "value": -6}, "value": -3}, "labels": false, "title": null}},
        "y": {"field": "v", "type": "quantitative", "scale": {"domain": [5, 20], "nice": false, "zero": false},
              "axis": {"orient": "left", "values": [5,6,7,8,9,10,11,12,13,14,15,16,17,18,19,20], "tickSize": {"condition": {"test": "datum.value % 5 === 0", "value": -6}, "value": -3}, "labelExpr": "datum.value % 5 === 0 ? datum.label : ''", "labelFlush": true, "labelPadding": 4, "title": "|B| (nT)", "titlePadding": 40}}}},
      {"mark": {"type": "line", "opacity": 0, "clip": true}, "encoding": {
        "x": {"field": "t", "type": "quantitative", "scale": {"domain": [-15, 30], "nice": false, "zero": false},
              "axis": {"orient": "top", "values": [-14,-12,-10,-8,-6,-4,-2,0,2,4,6,8,10,12,14,16,18,20,22,24,26,28,30], "tickSize": {"condition": {"test": "datum.value % 10 === 0", "value": -6}, "value": -3}, "labels": false, "title": null}},
        "y": {"field": "v", "type": "quantitative", "scale": {"domain": [5, 20], "nice": false, "zero": false},
              "axis": {"orient": "right", "values": [5,6,7,8,9,10,11,12,13,14,15,16,17,18,19,20], "tickSize": {"condition": {"test": "datum.value % 5 === 0", "value": -6}, "value": -3}, "labels": false, "title": null}}}},
      {"data": {"values": [{"t": 0}]}, "mark": {"type": "rule", "color": "black", "strokeDash": [12, 5], "strokeWidth": 1}, "encoding": {"x": {"field": "t", "type": "quantitative", "scale": {"domain": [-15, 30], "nice": false, "zero": false}, "axis": null}}},
      {"data": {"values": [{"t": -10.5}, {"t": -8.4}, {"t": -2.8}]}, "mark": {"type": "rule", "color": "black", "strokeDash": [1, 2], "strokeWidth": 1}, "encoding": {"x": {"field": "t", "type": "quantitative", "scale": {"domain": [-15, 30], "nice": false, "zero": false}, "axis": null}}}
     ],
     "resolve": {"axis": {"x": "independent", "y": "independent"}}},
    {"width": 330, "height": 168, "data": {"name": "b2"},
     "layer": [
      {"mark": {"type": "line", "clip": true}, "encoding": {
        "x": {"field": "t", "type": "quantitative", "scale": {"domain": [-15, 30], "nice": false, "zero": false},
              "axis": {"orient": "bottom", "values": [-14,-12,-10,-8,-6,-4,-2,0,2,4,6,8,10,12,14,16,18,20,22,24,26,28,30], "tickSize": {"condition": {"test": "datum.value % 10 === 0", "value": -6}, "value": -3}, "labels": false, "title": null}},
        "y": {"field": "v", "type": "quantitative", "scale": {"domain": [5, 20], "nice": false, "zero": false},
              "axis": {"orient": "left", "values": [5,6,7,8,9,10,11,12,13,14,15,16,17,18,19,20], "tickSize": {"condition": {"test": "datum.value % 5 === 0", "value": -6}, "value": -3}, "labels": false, "title": null}}}},
      {"mark": {"type": "line", "opacity": 0, "clip": true}, "encoding": {
        "x": {"field": "t", "type": "quantitative", "scale": {"domain": [-15, 30], "nice": false, "zero": false},
              "axis": {"orient": "top", "values": [-14,-12,-10,-8,-6,-4,-2,0,2,4,6,8,10,12,14,16,18,20,22,24,26,28,30], "tickSize": {"condition": {"test": "datum.value % 10 === 0", "value": -6}, "value": -3}, "labels": false, "title": null}},
        "y": {"field": "v", "type": "quantitative", "scale": {"domain": [5, 20], "nice": false, "zero": false},
              "axis": {"orient": "right", "values": [5,6,7,8,9,10,11,12,13,14,15,16,17,18,19,20], "tickSize": {"condition": {"test": "datum.value % 5 === 0", "value": -6}, "value": -3}, "labels": false, "title": null}}}},
      {"data": {"values": [{"t": 0}]}, "mark": {"type": "rule", "color": "black", "strokeDash": [12, 5], "strokeWidth": 1}, "encoding": {"x": {"field": "t", "type": "quantitative", "scale": {"domain": [-15, 30], "nice": false, "zero": false}, "axis": null}}}
     ],
     "resolve": {"axis": {"x": "independent", "y": "independent"}}},
    {"width": 330, "height": 168, "data": {"name": "c2"},
     "layer": [
      {"mark": {"type": "line", "clip": true}, "encoding": {
        "x": {"field": "t", "type": "quantitative", "scale": {"domain": [-15, 30], "nice": false, "zero": false},
              "axis": {"orient": "bottom", "values": [-14,-12,-10,-8,-6,-4,-2,0,2,4,6,8,10,12,14,16,18,20,22,24,26,28,30], "tickSize": {"condition": {"test": "datum.value % 10 === 0", "value": -6}, "value": -3}, "labels": false, "title": null}},
        "y": {"field": "v", "type": "quantitative", "scale": {"domain": [5, 20], "nice": false, "zero": false},
              "axis": {"orient": "left", "values": [5,6,7,8,9,10,11,12,13,14,15,16,17,18,19,20], "tickSize": {"condition": {"test": "datum.value % 5 === 0", "value": -6}, "value": -3}, "labels": false, "title": null}}}},
      {"mark": {"type": "line", "opacity": 0, "clip": true}, "encoding": {
        "x": {"field": "t", "type": "quantitative", "scale": {"domain": [-15, 30], "nice": false, "zero": false},
              "axis": {"orient": "top", "values": [-14,-12,-10,-8,-6,-4,-2,0,2,4,6,8,10,12,14,16,18,20,22,24,26,28,30], "tickSize": {"condition": {"test": "datum.value % 10 === 0", "value": -6}, "value": -3}, "labels": false, "title": null}},
        "y": {"field": "v", "type": "quantitative", "scale": {"domain": [5, 20], "nice": false, "zero": false},
              "axis": {"orient": "right", "values": [5,6,7,8,9,10,11,12,13,14,15,16,17,18,19,20], "tickSize": {"condition": {"test": "datum.value % 5 === 0", "value": -6}, "value": -3}, "labels": false, "title": null}}}},
      {"data": {"values": [{"t": 0}]}, "mark": {"type": "rule", "color": "black", "strokeDash": [12, 5], "strokeWidth": 1}, "encoding": {"x": {"field": "t", "type": "quantitative", "scale": {"domain": [-15, 30], "nice": false, "zero": false}, "axis": null}}}
     ],
     "resolve": {"axis": {"x": "independent", "y": "independent"}}},

    {"width": 330, "height": 168, "data": {"name": "a3"},
     "layer": [
      {"mark": {"type": "line", "clip": true}, "encoding": {
        "x": {"field": "t", "type": "quantitative", "scale": {"domain": [-15, 30], "nice": false, "zero": false},
              "axis": {"orient": "bottom", "values": [-14,-12,-10,-8,-6,-4,-2,0,2,4,6,8,10,12,14,16,18,20,22,24,26,28,30], "tickSize": {"condition": {"test": "datum.value % 10 === 0", "value": -6}, "value": -3}, "labels": false, "title": null}},
        "y": {"field": "v", "type": "quantitative", "scale": {"domain": [400, 600], "nice": false, "zero": false},
              "axis": {"orient": "left", "values": [400,420,440,460,480,500,520,540,560,580,600], "tickSize": {"condition": {"test": "datum.value % 100 === 0", "value": -6}, "value": -3}, "labelExpr": "datum.value % 100 === 0 ? datum.label : ''", "labelFlush": true, "labelPadding": 4, "title": "υₚ (km s⁻¹)", "titlePadding": 27}}}},
      {"mark": {"type": "line", "opacity": 0, "clip": true}, "encoding": {
        "x": {"field": "t", "type": "quantitative", "scale": {"domain": [-15, 30], "nice": false, "zero": false},
              "axis": {"orient": "top", "values": [-14,-12,-10,-8,-6,-4,-2,0,2,4,6,8,10,12,14,16,18,20,22,24,26,28,30], "tickSize": {"condition": {"test": "datum.value % 10 === 0", "value": -6}, "value": -3}, "labels": false, "title": null}},
        "y": {"field": "v", "type": "quantitative", "scale": {"domain": [400, 600], "nice": false, "zero": false},
              "axis": {"orient": "right", "values": [400,420,440,460,480,500,520,540,560,580,600], "tickSize": {"condition": {"test": "datum.value % 100 === 0", "value": -6}, "value": -3}, "labels": false, "title": null}}}},
      {"data": {"values": [{"t": 0}]}, "mark": {"type": "rule", "color": "black", "strokeDash": [12, 5], "strokeWidth": 1}, "encoding": {"x": {"field": "t", "type": "quantitative", "scale": {"domain": [-15, 30], "nice": false, "zero": false}, "axis": null}}}
     ],
     "resolve": {"axis": {"x": "independent", "y": "independent"}}},
    {"width": 330, "height": 168, "data": {"name": "b3"},
     "layer": [
      {"mark": {"type": "line", "clip": true}, "encoding": {
        "x": {"field": "t", "type": "quantitative", "scale": {"domain": [-15, 30], "nice": false, "zero": false},
              "axis": {"orient": "bottom", "values": [-14,-12,-10,-8,-6,-4,-2,0,2,4,6,8,10,12,14,16,18,20,22,24,26,28,30], "tickSize": {"condition": {"test": "datum.value % 10 === 0", "value": -6}, "value": -3}, "labels": false, "title": null}},
        "y": {"field": "v", "type": "quantitative", "scale": {"domain": [400, 600], "nice": false, "zero": false},
              "axis": {"orient": "left", "values": [400,420,440,460,480,500,520,540,560,580,600], "tickSize": {"condition": {"test": "datum.value % 100 === 0", "value": -6}, "value": -3}, "labels": false, "title": null}}}},
      {"mark": {"type": "line", "opacity": 0, "clip": true}, "encoding": {
        "x": {"field": "t", "type": "quantitative", "scale": {"domain": [-15, 30], "nice": false, "zero": false},
              "axis": {"orient": "top", "values": [-14,-12,-10,-8,-6,-4,-2,0,2,4,6,8,10,12,14,16,18,20,22,24,26,28,30], "tickSize": {"condition": {"test": "datum.value % 10 === 0", "value": -6}, "value": -3}, "labels": false, "title": null}},
        "y": {"field": "v", "type": "quantitative", "scale": {"domain": [400, 600], "nice": false, "zero": false},
              "axis": {"orient": "right", "values": [400,420,440,460,480,500,520,540,560,580,600], "tickSize": {"condition": {"test": "datum.value % 100 === 0", "value": -6}, "value": -3}, "labels": false, "title": null}}}},
      {"data": {"values": [{"t": 0}]}, "mark": {"type": "rule", "color": "black", "strokeDash": [12, 5], "strokeWidth": 1}, "encoding": {"x": {"field": "t", "type": "quantitative", "scale": {"domain": [-15, 30], "nice": false, "zero": false}, "axis": null}}}
     ],
     "resolve": {"axis": {"x": "independent", "y": "independent"}}},
    {"width": 330, "height": 168, "data": {"name": "c3"},
     "layer": [
      {"mark": {"type": "line", "clip": true}, "encoding": {
        "x": {"field": "t", "type": "quantitative", "scale": {"domain": [-15, 30], "nice": false, "zero": false},
              "axis": {"orient": "bottom", "values": [-14,-12,-10,-8,-6,-4,-2,0,2,4,6,8,10,12,14,16,18,20,22,24,26,28,30], "tickSize": {"condition": {"test": "datum.value % 10 === 0", "value": -6}, "value": -3}, "labels": false, "title": null}},
        "y": {"field": "v", "type": "quantitative", "scale": {"domain": [400, 600], "nice": false, "zero": false},
              "axis": {"orient": "left", "values": [400,420,440,460,480,500,520,540,560,580,600], "tickSize": {"condition": {"test": "datum.value % 100 === 0", "value": -6}, "value": -3}, "labels": false, "title": null}}}},
      {"mark": {"type": "line", "opacity": 0, "clip": true}, "encoding": {
        "x": {"field": "t", "type": "quantitative", "scale": {"domain": [-15, 30], "nice": false, "zero": false},
              "axis": {"orient": "top", "values": [-14,-12,-10,-8,-6,-4,-2,0,2,4,6,8,10,12,14,16,18,20,22,24,26,28,30], "tickSize": {"condition": {"test": "datum.value % 10 === 0", "value": -6}, "value": -3}, "labels": false, "title": null}},
        "y": {"field": "v", "type": "quantitative", "scale": {"domain": [400, 600], "nice": false, "zero": false},
              "axis": {"orient": "right", "values": [400,420,440,460,480,500,520,540,560,580,600], "tickSize": {"condition": {"test": "datum.value % 100 === 0", "value": -6}, "value": -3}, "labels": false, "title": null}}}},
      {"data": {"values": [{"t": 0}]}, "mark": {"type": "rule", "color": "black", "strokeDash": [12, 5], "strokeWidth": 1}, "encoding": {"x": {"field": "t", "type": "quantitative", "scale": {"domain": [-15, 30], "nice": false, "zero": false}, "axis": null}}}
     ],
     "resolve": {"axis": {"x": "independent", "y": "independent"}}},

    {"width": 330, "height": 168, "data": {"name": "a4"},
     "layer": [
      {"mark": {"type": "line", "clip": true}, "encoding": {
        "x": {"field": "t", "type": "quantitative", "scale": {"domain": [-15, 30], "nice": false, "zero": false},
              "axis": {"orient": "bottom", "values": [-14,-12,-10,-8,-6,-4,-2,0,2,4,6,8,10,12,14,16,18,20,22,24,26,28,30], "tickSize": {"condition": {"test": "datum.value % 10 === 0", "value": -6}, "value": -3}, "labelExpr": "datum.value % 10 === 0 ? datum.label : ''", "labelPadding": 24, "title": null}},
        "y": {"field": "v", "type": "quantitative", "scale": {"type": "log", "domain": [10000, 1000000], "nice": false},
              "axis": {"orient": "left", "values": [10000,20000,30000,40000,50000,60000,70000,80000,90000,100000,200000,300000,400000,500000,600000,700000,800000,900000,1000000], "tickSize": {"condition": {"test": "datum.value === 10000 || datum.value === 100000 || datum.value === 1000000", "value": -6}, "value": -3}, "labelExpr": "datum.value === 10000 ? '10⁴' : datum.value === 100000 ? '10⁵' : datum.value === 1000000 ? '10⁶' : ''", "labelFlush": true, "labelPadding": 4, "title": "Tₚ (K)", "titlePadding": 36}}}},
      {"mark": {"type": "line", "opacity": 0, "clip": true}, "encoding": {
        "x": {"field": "t", "type": "quantitative", "scale": {"domain": [-15, 30], "nice": false, "zero": false},
              "axis": {"orient": "top", "values": [-14,-12,-10,-8,-6,-4,-2,0,2,4,6,8,10,12,14,16,18,20,22,24,26,28,30], "tickSize": {"condition": {"test": "datum.value % 10 === 0", "value": -6}, "value": -3}, "labels": false, "title": null}},
        "y": {"field": "v", "type": "quantitative", "scale": {"type": "log", "domain": [10000, 1000000], "nice": false},
              "axis": {"orient": "right", "values": [10000,20000,30000,40000,50000,60000,70000,80000,90000,100000,200000,300000,400000,500000,600000,700000,800000,900000,1000000], "tickSize": {"condition": {"test": "datum.value === 10000 || datum.value === 100000 || datum.value === 1000000", "value": -6}, "value": -3}, "labels": false, "title": null}}}},
      {"data": {"values": [{"t": 0}]}, "mark": {"type": "rule", "color": "black", "strokeDash": [12, 5], "strokeWidth": 1}, "encoding": {"x": {"field": "t", "type": "quantitative", "scale": {"domain": [-15, 30], "nice": false, "zero": false}, "axis": null}}}
     ],
     "resolve": {"axis": {"x": "independent", "y": "independent"}}},
    {"width": 330, "height": 168, "data": {"name": "b4"},
     "layer": [
      {"mark": {"type": "line", "clip": true}, "encoding": {
        "x": {"field": "t", "type": "quantitative", "scale": {"domain": [-15, 30], "nice": false, "zero": false},
              "axis": {"orient": "bottom", "values": [-14,-12,-10,-8,-6,-4,-2,0,2,4,6,8,10,12,14,16,18,20,22,24,26,28,30], "tickSize": {"condition": {"test": "datum.value % 10 === 0", "value": -6}, "value": -3}, "labelExpr": "datum.value % 10 === 0 ? datum.label : ''", "labelPadding": 24, "title": "t (Hour)", "titleFontSize": 24, "titlePadding": 20}},
        "y": {"field": "v", "type": "quantitative", "scale": {"type": "log", "domain": [10000, 1000000], "nice": false},
              "axis": {"orient": "left", "values": [10000,20000,30000,40000,50000,60000,70000,80000,90000,100000,200000,300000,400000,500000,600000,700000,800000,900000,1000000], "tickSize": {"condition": {"test": "datum.value === 10000 || datum.value === 100000 || datum.value === 1000000", "value": -6}, "value": -3}, "labels": false, "title": null}}}},
      {"mark": {"type": "line", "opacity": 0, "clip": true}, "encoding": {
        "x": {"field": "t", "type": "quantitative", "scale": {"domain": [-15, 30], "nice": false, "zero": false},
              "axis": {"orient": "top", "values": [-14,-12,-10,-8,-6,-4,-2,0,2,4,6,8,10,12,14,16,18,20,22,24,26,28,30], "tickSize": {"condition": {"test": "datum.value % 10 === 0", "value": -6}, "value": -3}, "labels": false, "title": null}},
        "y": {"field": "v", "type": "quantitative", "scale": {"type": "log", "domain": [10000, 1000000], "nice": false},
              "axis": {"orient": "right", "values": [10000,20000,30000,40000,50000,60000,70000,80000,90000,100000,200000,300000,400000,500000,600000,700000,800000,900000,1000000], "tickSize": {"condition": {"test": "datum.value === 10000 || datum.value === 100000 || datum.value === 1000000", "value": -6}, "value": -3}, "labels": false, "title": null}}}},
      {"data": {"values": [{"t": 0}]}, "mark": {"type": "rule", "color": "black", "strokeDash": [12, 5], "strokeWidth": 1}, "encoding": {"x": {"field": "t", "type": "quantitative", "scale": {"domain": [-15, 30], "nice": false, "zero": false}, "axis": null}}}
     ],
     "resolve": {"axis": {"x": "independent", "y": "independent"}}},
    {"width": 330, "height": 168, "data": {"name": "c4"},
     "layer": [
      {"mark": {"type": "line", "clip": true}, "encoding": {
        "x": {"field": "t", "type": "quantitative", "scale": {"domain": [-15, 30], "nice": false, "zero": false},
              "axis": {"orient": "bottom", "values": [-14,-12,-10,-8,-6,-4,-2,0,2,4,6,8,10,12,14,16,18,20,22,24,26,28,30], "tickSize": {"condition": {"test": "datum.value % 10 === 0", "value": -6}, "value": -3}, "labelExpr": "datum.value % 10 === 0 ? datum.label : ''", "labelPadding": 24, "title": null}},
        "y": {"field": "v", "type": "quantitative", "scale": {"type": "log", "domain": [10000, 1000000], "nice": false},
              "axis": {"orient": "left", "values": [10000,20000,30000,40000,50000,60000,70000,80000,90000,100000,200000,300000,400000,500000,600000,700000,800000,900000,1000000], "tickSize": {"condition": {"test": "datum.value === 10000 || datum.value === 100000 || datum.value === 1000000", "value": -6}, "value": -3}, "labels": false, "title": null}}}},
      {"mark": {"type": "line", "opacity": 0, "clip": true}, "encoding": {
        "x": {"field": "t", "type": "quantitative", "scale": {"domain": [-15, 30], "nice": false, "zero": false},
              "axis": {"orient": "top", "values": [-14,-12,-10,-8,-6,-4,-2,0,2,4,6,8,10,12,14,16,18,20,22,24,26,28,30], "tickSize": {"condition": {"test": "datum.value % 10 === 0", "value": -6}, "value": -3}, "labels": false, "title": null}},
        "y": {"field": "v", "type": "quantitative", "scale": {"type": "log", "domain": [10000, 1000000], "nice": false},
              "axis": {"orient": "right", "values": [10000,20000,30000,40000,50000,60000,70000,80000,90000,100000,200000,300000,400000,500000,600000,700000,800000,900000,1000000], "tickSize": {"condition": {"test": "datum.value === 10000 || datum.value === 100000 || datum.value === 1000000", "value": -6}, "value": -3}, "labels": false, "title": null}}}},
      {"data": {"values": [{"t": 0}]}, "mark": {"type": "rule", "color": "black", "strokeDash": [12, 5], "strokeWidth": 1}, "encoding": {"x": {"field": "t", "type": "quantitative", "scale": {"domain": [-15, 30], "nice": false, "zero": false}, "axis": null}}}
     ],
     "resolve": {"axis": {"x": "independent", "y": "independent"}}}
  ],
  "columns": 3,
  "spacing": {"row": 13.5, "column": 11},
  "bounds": "flush"
}
